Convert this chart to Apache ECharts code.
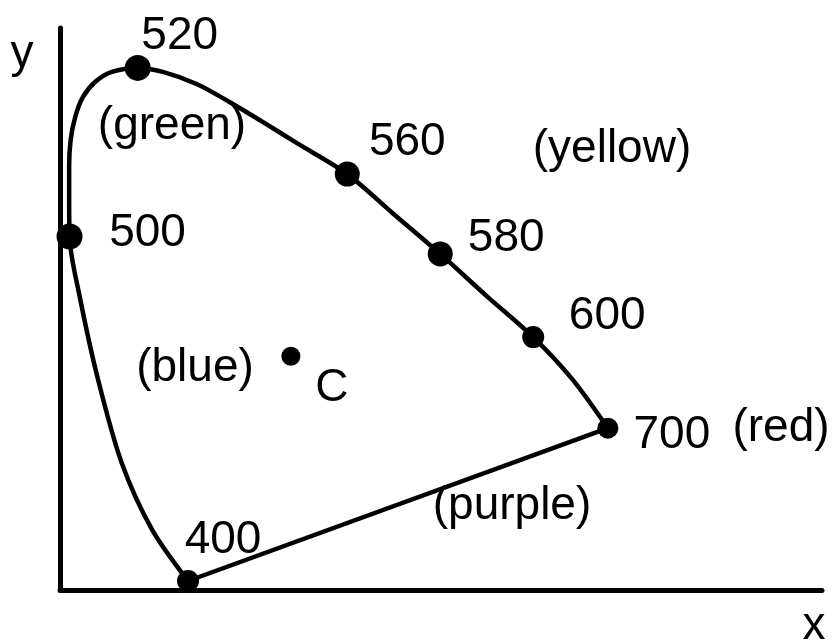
<!DOCTYPE html>
<html>
<head>
<meta charset="utf-8">
<script src="https://cdn.jsdelivr.net/npm/echarts@6/dist/echarts.min.js"></script>
<style>
  html, body { margin: 0; padding: 0; background: #fff; }
  #chart { width: 833px; height: 643px; }
</style>
</head>
<body>
<div id="chart"></div>
<script>
// chromaticity points (schematic)
const wavelengths = [400, 500, 520, 560, 580, 600, 700]
const wlX = [0.168, 0.0125, 0.102, 0.377, 0.499, 0.621, 0.719]
const wlY = [0.016, 0.629, 0.929, 0.740, 0.598, 0.450, 0.288]

// spectral locus, from 400 nm round the top to 700 nm
const locusX = [0.168, 0.121, 0.081, 0.050, 0.026, 0.0125, 0.012, 0.012, 0.014, 0.020, 0.030, 0.046, 0.068, 0.102,
  0.135, 0.180, 0.223, 0.266, 0.311, 0.377, 0.437, 0.499, 0.560, 0.621, 0.673, 0.719]
const locusY = [0.016, 0.107, 0.226, 0.374, 0.521, 0.629, 0.706, 0.753, 0.801, 0.842, 0.877, 0.904, 0.922, 0.929,
  0.922, 0.900, 0.868, 0.833, 0.795, 0.740, 0.670, 0.598, 0.523, 0.450, 0.374, 0.288]

// illuminant C
const whiteName = 'C'
const whiteX = 0.303
const whiteY = 0.416

const regionNames = ['(green)', '(yellow)', '(blue)', '(red)', '(purple)']

// label placement (pixels)
const FONT = '"Liberation Sans", Arial, Helvetica, sans-serif'
const FS = 46
const dotSize = { 400: 22, 500: 26, 520: 26, 560: 25, 580: 25, 600: 22, 700: 21 }
const labelOffset = {
  400: [35, -41], 500: [78, -3], 520: [42, -32], 560: [60, -32],
  580: [66, -16], 600: [74, -21], 700: [64, 7]
}
const regionPos = {
  '(green)': [172, 126], '(yellow)': [612, 149], '(blue)': [195, 368],
  '(red)': [781, 428], '(purple)': [512, 506]
}

const chart = echarts.init(document.getElementById('chart'))

const textStyle = { fontFamily: FONT, fontSize: FS, color: '#000' }

const option = {
  animation: false,
  backgroundColor: '#fff',
  grid: { left: 60, right: 11, top: 28, bottom: 53, containLabel: false, outerBoundsMode: 'none' },
  xAxis: {
    type: 'value', min: 0, max: 1,
    axisLine: { show: true, lineStyle: { color: '#000', width: 5 } },
    axisTick: { show: false }, axisLabel: { show: false }, splitLine: { show: false }
  },
  yAxis: {
    type: 'value', min: 0, max: 1,
    axisLine: { show: true, lineStyle: { color: '#000', width: 5 } },
    axisTick: { show: false }, axisLabel: { show: false }, splitLine: { show: false }
  },
  series: [
    {
      name: 'locus',
      type: 'line',
      data: locusX.map((x, i) => [x, locusY[i]]),
      smooth: 0.3,
      symbol: 'none',
      clip: false,
      lineStyle: { color: '#000', width: 4.5 },
      z: 2
    },
    {
      name: 'purple line',
      type: 'line',
      data: [[wlX[6], wlY[6]], [wlX[0], wlY[0]]],
      symbol: 'none',
      clip: false,
      lineStyle: { color: '#000', width: 4.5 },
      z: 2
    },
    {
      name: 'wavelengths',
      type: 'scatter',
      clip: false,
      data: wavelengths.map((w, i) => ({
        value: [wlX[i], wlY[i]],
        symbolSize: dotSize[w],
        label: { offset: labelOffset[w] }
      })),
      itemStyle: { color: '#000', opacity: 1 },
      label: {
        show: true,
        position: 'inside',
        align: 'center',
        verticalAlign: 'middle',
        formatter: p => String(wavelengths[p.dataIndex]),
        ...textStyle
      },
      z: 3
    },
    {
      name: 'white',
      type: 'scatter',
      clip: false,
      data: [[whiteX, whiteY]],
      symbolSize: 19,
      itemStyle: { color: '#000', opacity: 1 },
      label: {
        show: true,
        position: 'inside',
        offset: [41, 32],
        align: 'center',
        verticalAlign: 'middle',
        formatter: whiteName,
        ...textStyle
      },
      z: 3
    }
  ],
  graphic: [
    ...regionNames.map(name => ({
      type: 'text',
      x: regionPos[name][0],
      y: regionPos[name][1],
      style: { text: name, font: FS + 'px ' + FONT, fill: '#000', align: 'center', verticalAlign: 'middle' }
    })),
    {
      type: 'text', x: 22, y: 54,
      style: { text: 'y', font: FS + 'px ' + FONT, fill: '#000', align: 'center', verticalAlign: 'middle' }
    },
    {
      type: 'text', x: 814, y: 626,
      style: { text: 'x', font: FS + 'px ' + FONT, fill: '#000', align: 'center', verticalAlign: 'middle' }
    }
  ]
}

chart.setOption(option)
</script>
</body>
</html>
